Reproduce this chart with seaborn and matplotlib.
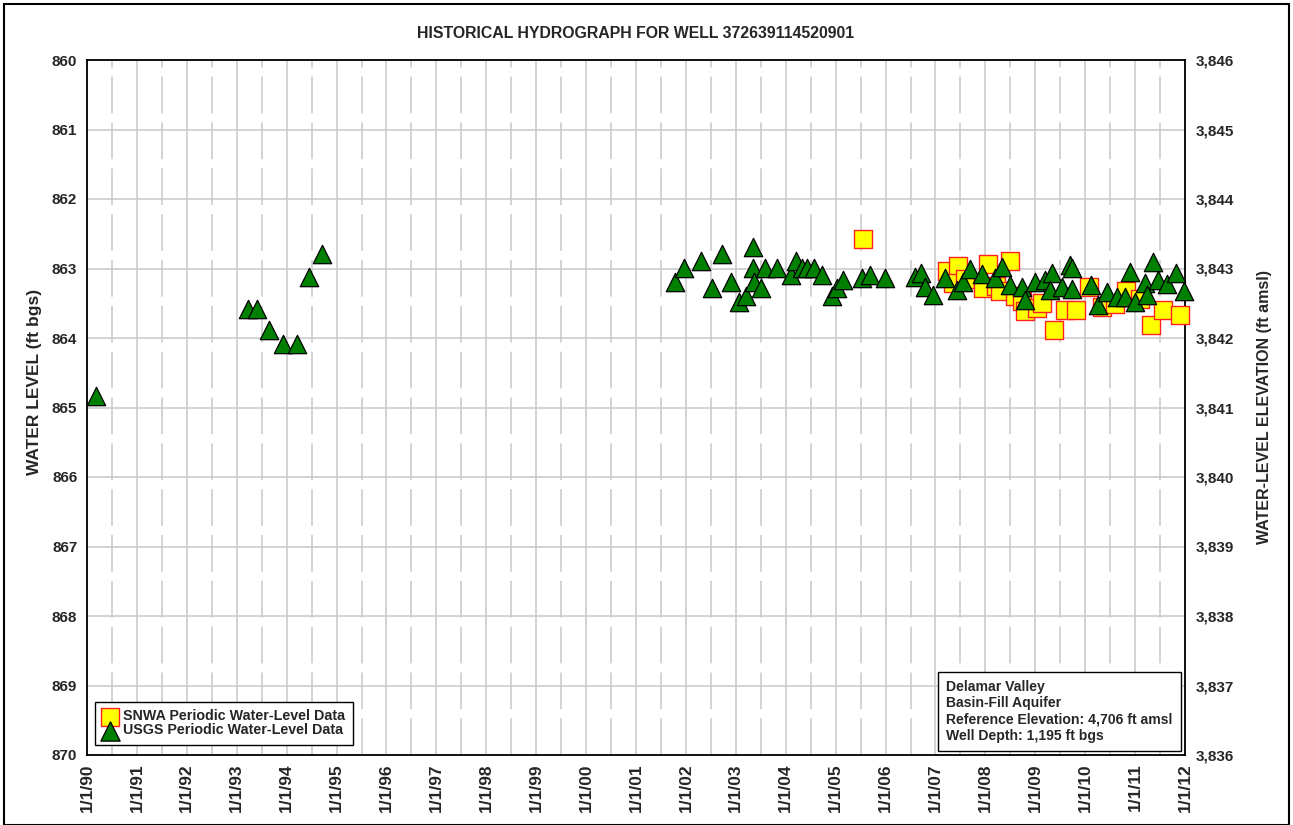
import numpy as np
import pandas as pd
import matplotlib
matplotlib.use("Agg")
import matplotlib.pyplot as plt
import seaborn as sns
from matplotlib.patches import Rectangle

# ---------------- data (decimal year, water level ft bgs) ----------------
usgs_year = [1990.18,
             1993.23, 1993.41, 1993.65, 1993.93, 1994.21, 1994.45, 1994.71,
             2001.78, 2001.96, 2002.30, 2002.52, 2002.72, 2002.90, 2003.06, 2003.20,
             2003.34, 2003.34, 2003.36, 2003.50, 2003.58, 2003.82,
             2004.11, 2004.21, 2004.33, 2004.43, 2004.57, 2004.73, 2004.93, 2005.03,
             2005.15, 2005.53, 2005.69, 2005.99,
             2006.59, 2006.71, 2006.79, 2006.95, 2007.19, 2007.43, 2007.55, 2007.69,
             2007.93, 2008.19, 2008.33, 2008.49, 2008.73, 2008.79, 2008.99, 2009.19,
             2009.33, 2009.29, 2009.54, 2009.70, 2009.74, 2009.74,
             2010.12, 2010.26, 2010.44, 2010.64, 2010.80, 2010.90, 2011.00, 2011.20,
             2011.24, 2011.36, 2011.46, 2011.64, 2011.82, 2011.98]
usgs_level = [864.83,
              863.58, 863.58, 863.88, 864.09, 864.09, 863.12, 862.79,
              863.19, 862.99, 862.89, 863.28, 862.79, 863.19, 863.48, 863.40,
              862.69, 862.99, 863.19, 863.28, 862.99, 862.99,
              863.09, 862.89, 862.99, 862.99, 862.99, 863.09, 863.40, 863.28,
              863.17, 863.14, 863.09, 863.14,
              863.12, 863.06, 863.27, 863.38, 863.14, 863.31, 863.19, 863.01,
              863.08, 863.14, 862.98, 863.24, 863.27, 863.45, 863.19, 863.17,
              863.06, 863.31, 863.27, 862.95, 862.99, 863.29,
              863.24, 863.53, 863.34, 863.41, 863.41, 863.05, 863.48, 863.21,
              863.38, 862.91, 863.17, 863.22, 863.06, 863.32]

snwa_year = [2005.55, 2007.23, 2007.45, 2007.35, 2007.59, 2007.95, 2008.05, 2008.21,
             2008.29, 2008.49, 2008.59, 2008.73, 2008.79, 2009.03, 2009.13, 2009.37,
             2009.60, 2009.82, 2010.08, 2010.34, 2010.60, 2010.82, 2011.10, 2011.32,
             2011.56, 2011.90]
snwa_level = [862.58, 863.04, 862.96, 863.21, 863.15, 863.28, 862.94, 863.25,
              863.32, 862.89, 863.40, 863.47, 863.61, 863.57, 863.50, 863.88,
              863.60, 863.60, 863.27, 863.55, 863.51, 863.32, 863.44, 863.81,
              863.60, 863.67]

year_ticks = list(range(1990, 2013))
tick_labels = [f"1/1/{y % 100:02d}" for y in year_ticks]
level_ticks = list(range(860, 871))
ref_elev = 4706

title = "HISTORICAL HYDROGRAPH FOR WELL 372639114520901"
info_text = ("Delamar Valley\nBasin-Fill Aquifer\n"
             "Reference Elevation: 4,706 ft amsl\nWell Depth: 1,195 ft bgs")

# ---------------- styling ----------------
sns.set_theme(style="white")
plt.rcParams['font.family'] = ['Liberation Sans', 'DejaVu Sans']
plt.rcParams['font.weight'] = 'bold'

fig = plt.figure(figsize=(12.93, 8.25), dpi=100)
ax = fig.add_axes([87/1293, 1-755/825, 1098/1293, 695/825])

usgs = pd.DataFrame({"year": usgs_year, "level": usgs_level})
snwa = pd.DataFrame({"year": snwa_year, "level": snwa_level})

# grid
for y in level_ticks:
    ax.axhline(y, color="#c8c8c8", lw=1.1, zorder=0)
for yr in year_ticks:
    ax.axvline(yr, color="#c8c8c8", lw=1.1, zorder=0)
for yr in year_ticks[:-1]:
    ax.axvline(yr + 0.5, color="#c8c8c8", lw=1.1, zorder=0,
               linestyle=(0, (24, 6)))

sns.scatterplot(data=snwa, x="year", y="level", ax=ax, marker="s", s=160,
                color="#ffff00", edgecolor="#ff2020", linewidth=1.0,
                label="SNWA Periodic Water-Level Data", zorder=3, clip_on=False)
sns.scatterplot(data=usgs, x="year", y="level", ax=ax, marker="^", s=175,
                color="#008000", edgecolor="black", linewidth=0.9,
                label="USGS Periodic Water-Level Data", zorder=4, clip_on=False)

ax.set_xlim(1990, 2012)
ax.set_ylim(870, 860)
ax.set_xticks(year_ticks)
ax.set_xticklabels(tick_labels, rotation=90, fontsize=12.5, fontweight='bold')
ax.set_yticks(level_ticks)
ax.set_yticklabels([str(v) for v in level_ticks], fontsize=11, fontweight='bold')
ax.tick_params(axis='y', length=0, pad=7)
ax.tick_params(axis='x', length=0, pad=6)
ax.set_xlabel("")
ax.set_ylabel("WATER LEVEL (ft bgs)", fontsize=12.5, fontweight='bold')
ax.yaxis.set_label_coords(-0.041, 0.537)
for sp in ax.spines.values():
    sp.set_color("black")
    sp.set_linewidth(1.3)

ax2 = ax.twinx()
ax2.set_ylim(ref_elev - 870, ref_elev - 860)
elev_ticks = [ref_elev - v for v in level_ticks]
ax2.set_yticks(elev_ticks)
ax2.set_yticklabels([f"{v:,}" for v in elev_ticks], fontsize=11, fontweight='bold')
ax2.tick_params(axis='y', length=0, pad=8)
ax2.set_ylabel("WATER-LEVEL ELEVATION (ft amsl)", fontsize=11.5, fontweight='bold')
ax2.yaxis.set_label_coords(1.066, 0.5)
ax2.grid(False)
for sp in ax2.spines.values():
    sp.set_visible(False)

ax.set_title(title, fontsize=11.4, fontweight='bold', pad=15.5)

leg = ax.legend(loc="lower left", bbox_to_anchor=(0.007, 0.014), frameon=True,
                fancybox=False, edgecolor="black", framealpha=1,
                prop={'weight': 'bold', 'size': 10.3}, labelspacing=0.0,
                handletextpad=0.35, borderpad=0.55, handlelength=1.1,
                borderaxespad=0, markerscale=1.05)
leg.get_frame().set_linewidth(1.0)
leg.set_zorder(10)

ax.text(0.9886, 0.0175, info_text, transform=ax.transAxes, ha='right', va='bottom',
        multialignment='left',
        fontsize=10.1, fontweight='bold', linespacing=1.2, zorder=10,
        bbox=dict(boxstyle='square,pad=0.58', facecolor='white',
                  edgecolor='black', linewidth=1.0))

fig.patches.append(Rectangle((4/1293, 0), 1285/1293, 1-4/825, transform=fig.transFigure,
                             fill=False, edgecolor='black', linewidth=1.5))

fig.savefig("out.png", dpi=100, facecolor="white")
